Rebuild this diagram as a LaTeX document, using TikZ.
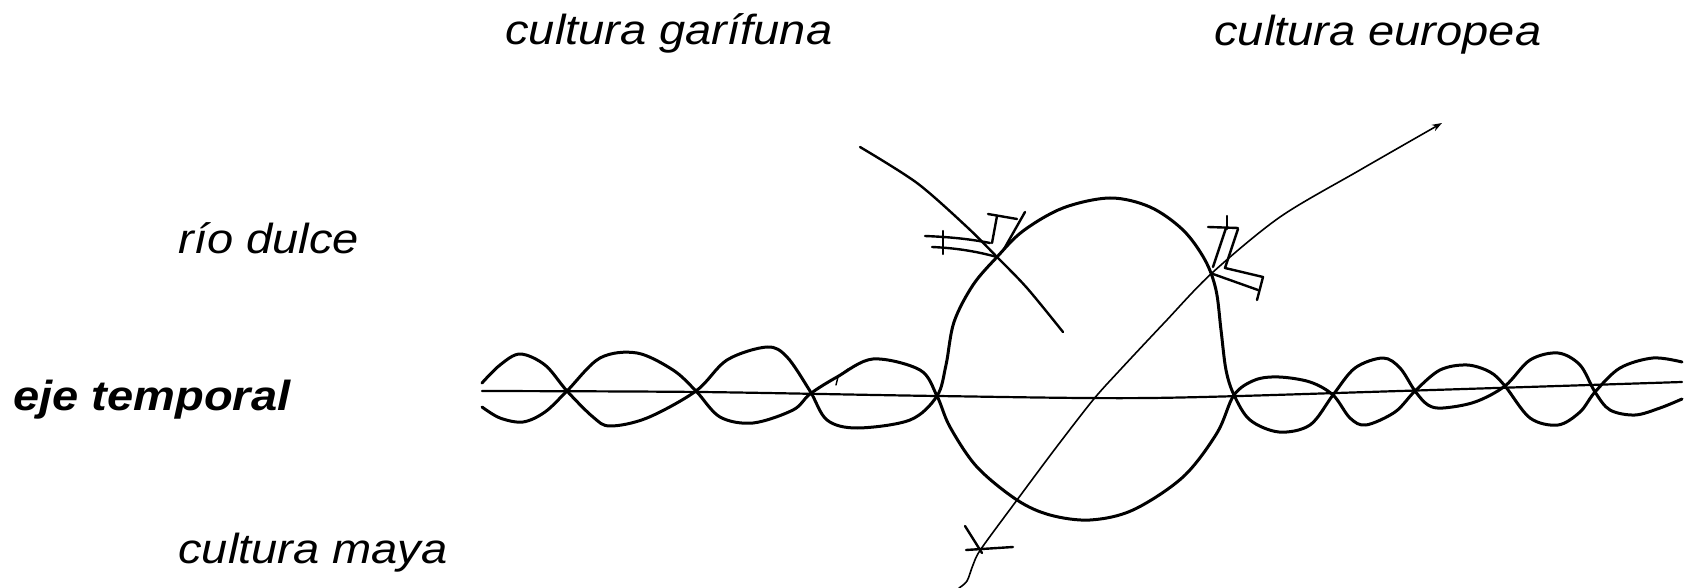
\documentclass[tikz,border=0pt]{standalone}
\usepackage{fontspec}
\setmainfont{Liberation Sans}
\usetikzlibrary{arrows.meta}
\tikzset{
  lbl/.style={anchor=base west, inner sep=0pt, font=\fontsize{21}{25}\selectfont\itshape},
  strand/.style={line width=1.5pt, line cap=round, line join=round},
  axisline/.style={line width=1.1pt, line cap=round},
  culture/.style={line width=1.2pt, line cap=round},
  euro/.style={line width=0.8pt, line cap=round},
  handmark/.style={line width=1.2pt, line cap=round, line join=round}
}
\newcommand{\wide}[1]{\scalebox{1.12}[1]{#1}}
\begin{document}
\begin{tikzpicture}[x=0.5pt, y=-0.5pt]
\useasboundingbox (0,0) rectangle (1693,588);

% labels
\node[lbl] (garifuna) at (505,45) {\wide{cultura garífuna}};
\node[lbl] (europea) at (1214,46) {\wide{cultura europea}};
\node[lbl] (rio) at (178,254) {\wide{río dulce}};
\node[lbl, font=\fontsize{21}{25}\selectfont\bfseries\itshape] (eje) at (13,410) {\wide{eje temporal}};
\node[lbl] (maya) at (178,563) {\wide{cultura maya}};

% time axis
\draw[axisline] plot[smooth] coordinates {(482,391) (700,392) (937,396) (1150,398) (1400,391) (1682,382)};

% strand U (upper at left, over the top of the big loop)
\draw[strand] plot[smooth, tension=0.55] coordinates {
 (482,383) (500,365) (520,354) (545,365) (567,391) (593,417) (610,426) (647,418)
 (696,391) (727,360) (767,347) (787,357) (810,391) (827,420) (857,428) (910,420)
 (937,396) (946,365) (954,322) (973,285) (997,257) (1023,231) (1063,208) (1110,198)
 (1150,207) (1183,230) (1205,260) (1216,290) (1221,330) (1226,370) (1234,395)
 (1250,420) (1279,432) (1310,425) (1333,395) (1355,368) (1383,358) (1400,368)
 (1415,391) (1428,405) (1443,408) (1475,402) (1505,386) (1530,360) (1558,353)
 (1580,365) (1595,392) (1610,410) (1635,415) (1660,408) (1682,399)};

% strand L (lower at left, under the bottom of the big loop)
\draw[strand] plot[smooth, tension=0.55] coordinates {
 (482,407) (500,418) (523,422) (545,412) (567,391) (600,358) (637,353) (673,370)
 (696,391) (720,417) (753,423) (793,410) (810,394) (837,377) (873,359) (920,370)
 (937,396) (950,427) (977,467) (1017,500) (1050,515) (1090,520) (1133,510)
 (1183,477) (1217,433) (1234,395) (1255,380) (1279,377) (1310,382) (1333,395)
 (1350,418) (1366,425) (1395,412) (1415,391) (1440,370) (1467,365) (1490,372)
 (1505,386) (1530,418) (1558,425) (1580,412) (1595,392) (1620,368) (1653,358)
 (1682,362)};

% cultura garifuna line
\draw[culture] plot[smooth] coordinates {(860,147) (917,183) (967,227) (997,257) (1027,288) (1063,332)};

% cultura europea line
\draw[euro, -{Stealth[length=5pt, width=3.5pt]}] plot[smooth] coordinates {
 (959,588) (967,581) (973,565) (981,549) (1017,500) (1055,449) (1093,400) (1120,370)
 (1165,322) (1212,273) (1280,217) (1360,170) (1442,123)};

% marks at the garifuna crossing
\draw[handmark] (925,236) .. controls (950,237) and (970,239) .. (990,243);
\draw[handmark] (932,247) .. controls (955,248) and (975,251) .. (997,257);
\draw[handmark] (943,231) -- (943,254);
\draw[handmark] (988,214) -- (1017,219);
\draw[handmark] (997,216) -- (992,243);
\draw[handmark] (1025,212) -- (1004,249);

% marks at the european crossing
\draw[handmark] (1208,227) -- (1238,228);
\draw[handmark] (1227,216) -- (1227,229);
\draw[handmark] (1226,228) -- (1213,267);
\draw[handmark] (1238,229) -- (1225,268) -- (1263,277) -- (1257,300);
\draw[handmark] (1258,290) -- (1213,274);

% mark at the lower end of the european line
\draw[handmark] (965,526) -- (982,553);
\draw[handmark] (966,550) -- (1013,547);

% small stroke near the axis
\draw[line width=0.7pt, line cap=round] (848,369) -- (838,377) -- (836,385);
\end{tikzpicture}
\end{document}
